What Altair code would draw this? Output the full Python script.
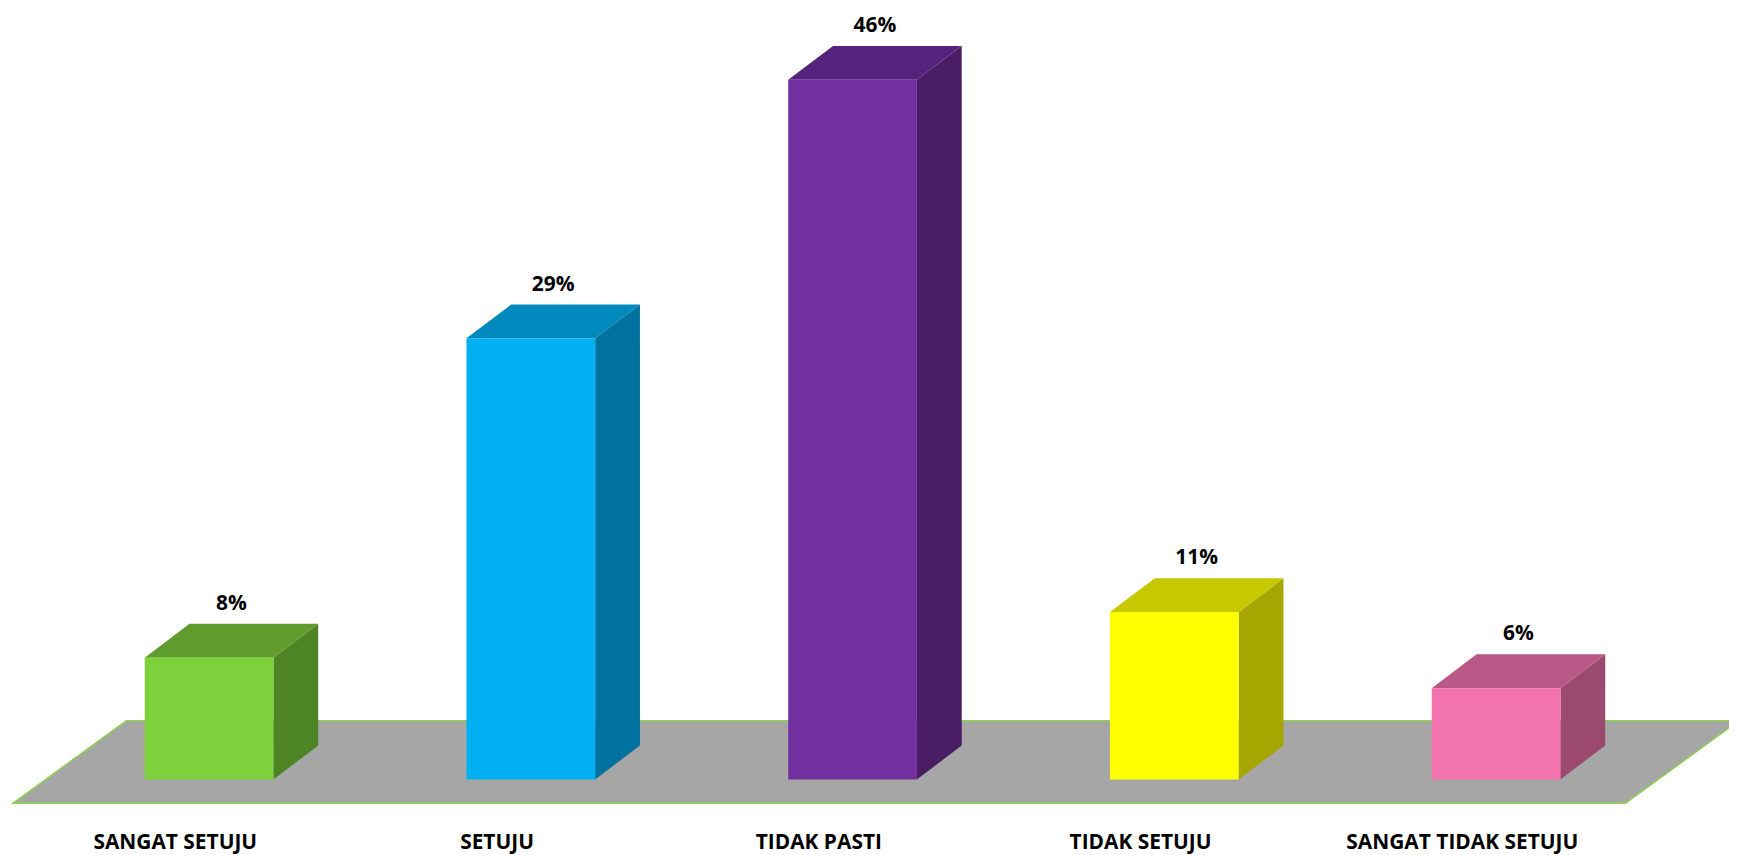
import altair as alt
import pandas as pd

categories = ["SANGAT SETUJU", "SETUJU", "TIDAK PASTI", "TIDAK SETUJU", "SANGAT TIDAK SETUJU"]
values = [8, 29, 46, 11, 6]
value_labels = ["8%", "29%", "46%", "11%", "6%"]
front_colors = ["#7fd13b", "#00b0f0", "#7030a0", "#ffff00", "#f373ae"]
top_colors = ["#5f9b2d", "#0089bd", "#55237b", "#c8c800", "#b95886"]
side_colors = ["#4e8524", "#0072a0", "#4a1c64", "#a6a600", "#9c4970"]

# geometry / style (not data)
W, H = 1729, 847
X0, X1 = -0.6249, 4.7239
Y0, Y1 = -4.843, 50.59
HALF = 0.2          # half width of bar front
DX, DY = 0.1392, 2.225   # bar depth offsets
FLOOR_L, FLOOR_R = -0.6094, 4.4022
FLOOR_FRONT, FLOOR_BACK = -1.571, 3.861
FLOOR_DX = 0.3527

idx = list(range(len(categories)))
front = pd.DataFrame({
    "cat": categories,
    "x": [i - HALF for i in idx],
    "x2": [i + HALF for i in idx],
    "y": [0.0] * len(idx),
    "y2": values,
    "c": front_colors,
})
side_rows, top_rows = [], []
for i, v, sc, tc, cat in zip(idx, values, side_colors, top_colors, categories):
    for k in (0, 1):
        side_rows.append({"cat": cat, "x": i + HALF + k * DX, "y": k * DY, "y2": v + k * DY, "c": sc})
        top_rows.append({"cat": cat, "y": v + k * DY, "x": i - HALF + k * DX, "x2": i + HALF + k * DX, "c": tc})
side = pd.DataFrame(side_rows)
top = pd.DataFrame(top_rows)
floor = pd.DataFrame({
    "y": [FLOOR_FRONT, FLOOR_BACK],
    "x": [FLOOR_L, FLOOR_L + FLOOR_DX],
    "x2": [FLOOR_R, FLOOR_R + FLOOR_DX],
})
pct = pd.DataFrame({
    "x": [i + DX / 2 for i in idx],
    "y": [v + DY + 1.3 for v in values],
    "t": value_labels,
})
cats = pd.DataFrame({"x": [i - 0.105 for i in idx], "t": categories})

xs = alt.Scale(domain=[X0, X1], nice=False, zero=False)
ys = alt.Scale(domain=[Y0, Y1], nice=False, zero=False)
noax = None

floor_l = alt.Chart(floor).mark_area(orient="horizontal", color="#a6a6a6", stroke="#8fd14f",
                                     strokeWidth=1.5, clip=True).encode(
    y=alt.Y("y:Q", scale=ys, axis=noax),
    x=alt.X("x:Q", scale=xs, axis=noax),
    x2="x2:Q",
)
side_l = alt.Chart(side).mark_area(orient="vertical").encode(
    x=alt.X("x:Q", scale=xs, axis=noax),
    y=alt.Y("y:Q", scale=ys, axis=noax),
    y2="y2:Q",
    color=alt.Color("c:N", scale=None),
    detail="cat:N",
)
top_l = alt.Chart(top).mark_area(orient="horizontal").encode(
    y=alt.Y("y:Q", scale=ys, axis=noax),
    x=alt.X("x:Q", scale=xs, axis=noax),
    x2="x2:Q",
    color=alt.Color("c:N", scale=None),
    detail="cat:N",
)
front_l = alt.Chart(front).mark_rect().encode(
    x=alt.X("x:Q", scale=xs, axis=noax),
    x2="x2:Q",
    y=alt.Y("y:Q", scale=ys, axis=noax),
    y2="y2:Q",
    color=alt.Color("c:N", scale=None),
)
pct_l = alt.Chart(pct).mark_text(font="Open Sans", fontWeight="bold", fontSize=21,
                                 baseline="middle", align="center", color="#000000").encode(
    x=alt.X("x:Q", scale=xs, axis=noax),
    y=alt.Y("y:Q", scale=ys, axis=noax),
    text="t:N",
)
cat_l = alt.Chart(cats).mark_text(font="Open Sans", fontWeight="bold", fontSize=21,
                                  baseline="alphabetic", align="center", color="#000000").encode(
    x=alt.X("x:Q", scale=xs, axis=noax),
    y=alt.datum(-4.58, scale=ys),
    text="t:N",
)

chart = alt.layer(floor_l, side_l, top_l, front_l, pct_l, cat_l).properties(
    width=W, height=H, padding=0, background="white",
    autosize=alt.AutoSizeParams(type="none"),
).configure_view(strokeWidth=0, stroke="transparent")

chart.save("out.html", embed_options={"renderer": "svg", "actions": False})
